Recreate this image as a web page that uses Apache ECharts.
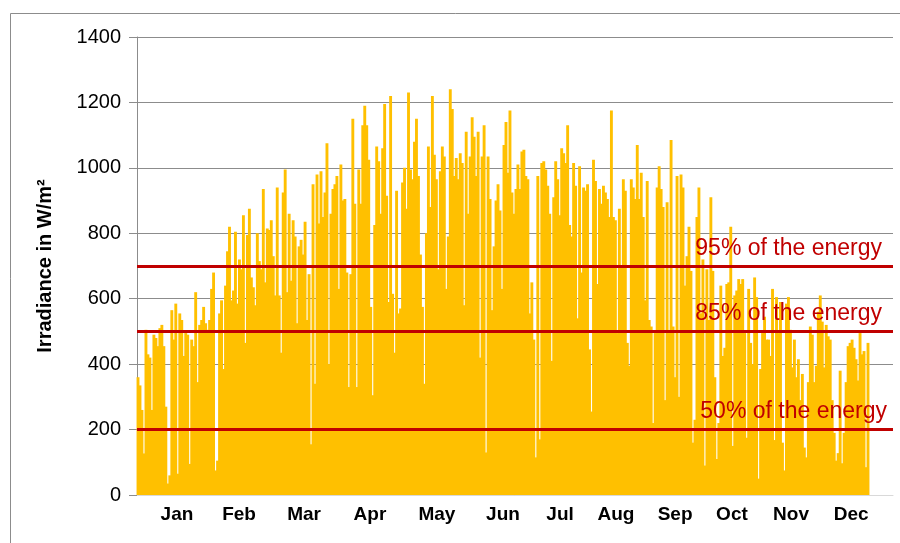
<!DOCTYPE html>
<html><head><meta charset="utf-8">
<script src="https://cdn.jsdelivr.net/npm/echarts@6/dist/echarts.min.js"></script>
<style>html,body{margin:0;padding:0;background:#fff}#c{width:900px;height:543px}</style>
</head><body><div id="c"></div>
<script>
// Daily peak irradiance (W/m²), in order through the year
const peakJanFeb = [360,335,260,127,505,430,420,260,490,480,455,510,520,455,270,35,60,565,475,585,65,555,535,425,495,490,95,475,455,620,345,520,535,575,525,505,535,630,680,75,105,555,595,385,640,745,820,595,625,805,585,720,690,855,465,795,875,665,635,580,800];
const peakMarApr = [715,690,935,650,815,810,840,730,610,940,610,435,925,995,620,860,655,840,790,525,760,780,735,835,535,675,155,950,340,980,830,990,850,925,1075,400,860,935,950,975,630,1010,900,905,680,330,675,1150,890,330,995,890,1130,1190,1130,1025,575,305,825,1065];
const peakMayJun = [1020,860,1060,1195,915,590,1220,615,435,930,555,570,955,1000,875,1230,995,965,1080,1150,975,735,575,340,800,1065,880,1220,1040,965,690,990,1065,1035,630,790,1240,1180,975,1030,965,1045,1015,580,1110,860,1035,1155,1095,975,1110,420,1035,1130,130,1035,905,565,760,900];
const peakJulAug = [950,870,630,1070,1140,985,1175,925,860,935,1010,935,1050,1055,975,965,555,650,475,115,975,170,1015,1020,995,945,860,410,910,1020,965,855,1060,1045,1015,1130,825,790,1015,945,540,1005,680,940,930,950,445,255,1025,960,645,935,890,945,925,905,850,1175,850,840,495];
const peakSepOct = [875,695,965,930,465,395,965,940,905,1070,905,985,850,595,960,535,515,220,495,940,1005,935,880,290,895,495,1085,515,360,975,300,980,940,640,730,820,685,160,230,850,940,555,720,90,690,535,910,685,360,110,220,640,425,450,645,650,820,150,610,625];
const peakNovDec = [660,645,660,495,175,630,465,400,665,605,50,385,495,545,475,475,425,630,168,605,495,590,160,75,585,605,505,390,475,360,415,290,370,145,115,345,515,490,345,395,560,610,530,390,520,485,475,290,190,105,128,380,97,190,345,455,465,475,450,415,350,495,430,440,85,465];

const monthNames = ['Jan','Feb','Mar','Apr','May','Jun','Jul','Aug','Sep','Oct','Nov','Dec'];
const monthLabelDays = [20.1,51.3,84.0,117.1,150.8,184.0,212.7,240.8,270.5,299.1,328.8,359.0];
const yMin = 0, yMax = 1400, yStep = 200;
const thresholds = [700, 500, 200];
const thresholdLabels = ['95% of the energy', '85% of the energy', '50% of the energy'];
const yName = 'Irradiance in W/m²';

const peaks = [].concat(peakJanFeb, peakMarApr, peakMayJun, peakJulAug, peakSepOct, peakNovDec);
const N = peaks.length;
const plotW = 900 - 137 - 7;
const dataW = 732;
const axisMax = N * plotW / dataW;
const barW = dataW / N + 0.9;
const FONT = 'Liberation Sans, Arial, sans-serif';
const labelInset = [11, 11, 6];

const chart = echarts.init(document.getElementById('c'), null, {renderer: 'canvas'});
chart.setOption({
  animation: false,
  backgroundColor: '#fff',
  grid: {left: 137, right: 7, top: 37, bottom: 48, containLabel: false},
  graphic: [{
    type: 'rect', silent: true, z: 100,
    shape: {x: 10.5, y: 13.5, width: 2000, height: 2000},
    style: {fill: 'none', stroke: '#8c8c8c', lineWidth: 1}
  }],
  xAxis: [{
    type: 'value', min: 0, max: axisMax,
    axisLine: {show: true, lineStyle: {color: '#d9d9d9', width: 1}},
    axisTick: {show: false}, axisLabel: {show: false}, splitLine: {show: false}
  }, {
    type: 'value', min: 0, max: axisMax, position: 'bottom',
    axisLine: {show: false}, axisTick: {show: false}, splitLine: {show: false},
    axisLabel: {
      show: true, customValues: monthLabelDays, margin: 10,
      fontSize: 19, fontWeight: 'bold', color: '#000', fontFamily: FONT,
      formatter: function (v) {
        let best = 0, d = Infinity;
        monthLabelDays.forEach((m, i) => { if (Math.abs(m - v) < d) { d = Math.abs(m - v); best = i; } });
        return monthNames[best];
      }
    }
  }],
  yAxis: {
    type: 'value', min: yMin, max: yMax, interval: yStep,
    name: yName, nameLocation: 'middle', nameGap: 82, nameRotate: 90,
    nameTextStyle: {fontSize: 20, fontWeight: 'bold', color: '#000', fontFamily: FONT},
    axisLine: {show: true, lineStyle: {color: '#8c8c8c', width: 1}},
    axisTick: {show: true, length: 8, lineStyle: {color: '#8c8c8c'}},
    axisLabel: {fontSize: 20, color: '#000', margin: 16, fontFamily: FONT,
      formatter: function (v) { return String(v); }},
    splitLine: {show: true, lineStyle: {color: '#8c8c8c', width: 1}}
  },
  series: [{
    type: 'bar', xAxisIndex: 0, silent: true,
    data: peaks.map((v, i) => [i + 0.5, v]),
    barWidth: barW,
    itemStyle: {color: '#FFC000'},
    markLine: {
      silent: true, symbol: 'none', animation: false,
      lineStyle: {color: '#C00000', width: 3, type: 'solid'},
      label: {
        show: true, position: 'insideEndTop',
        fontSize: 23, color: '#C00000', fontFamily: FONT
      },
      data: thresholds.map((v, i) => ({
        yAxis: v,
        label: {formatter: thresholdLabels[i], distance: [labelInset[i], 6]}
      }))
    }
  }]
});
</script>
</body></html>
